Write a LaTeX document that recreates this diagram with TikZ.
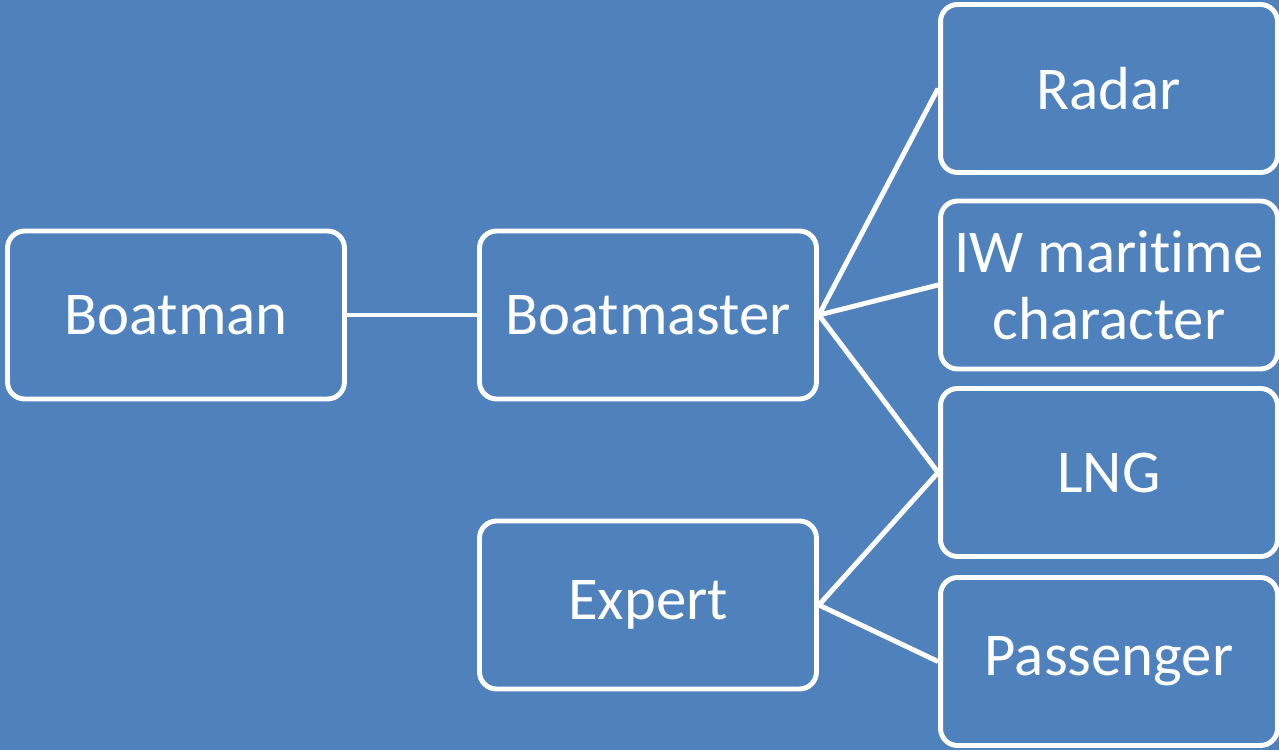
\documentclass[tikz,border=0pt]{standalone}
\usepackage{fontspec}
\setmainfont[Ligatures=NoCommon]{Carlito}
\usetikzlibrary{calc}
\definecolor{bgblue}{HTML}{4F81BD}
\tikzset{
	rolebox/.style={draw=white, line width=2.8pt, rounded corners=0.34cm, fill=bgblue,
		minimum width=6.74cm, minimum height=3.36cm, align=center, text=white,
		font=\fontsize{34.6}{38}\selectfont, inner sep=0pt},
	link/.style={draw=white, line width=2.8pt}
}

\begin{document}
\begin{tikzpicture}[x=0.02cm, y=-0.02cm]
			%%%%% START %%%%%
			
			\fill[bgblue] (0, 0) rectangle (1279, 750);
			\useasboundingbox (0, 0) rectangle (1279, 750);
			
			\node[rolebox] (boatman) at (176, 315) {Boatman};
			\node[rolebox] (boatmaster) at (648, 315) {Boatmaster};
			\node[rolebox] (expert) at (648, 605) {Expert};
			
			\node[rolebox] (radar) at (1109, 88.5) {Radar};
			\node[rolebox] (iw) at (1109, 285) {IW maritime\\character};
			\node[rolebox] (lng) at (1109, 472.5) {LNG};
			\node[rolebox] (passenger) at (1109, 661.5) {Passenger};
			
			\draw[link] (boatman.east) -- (boatmaster.west);
			\draw[link] (boatmaster.east) -- (radar.west);
			\draw[link] (boatmaster.east) -- (iw.west);
			\draw[link] (boatmaster.east) -- (lng.west);
			\draw[link] (expert.east) -- (lng.west);
			\draw[link] (expert.east) -- (passenger.west);
			
			%%%%% END %%%%%
		\end{tikzpicture}
\end{document}
